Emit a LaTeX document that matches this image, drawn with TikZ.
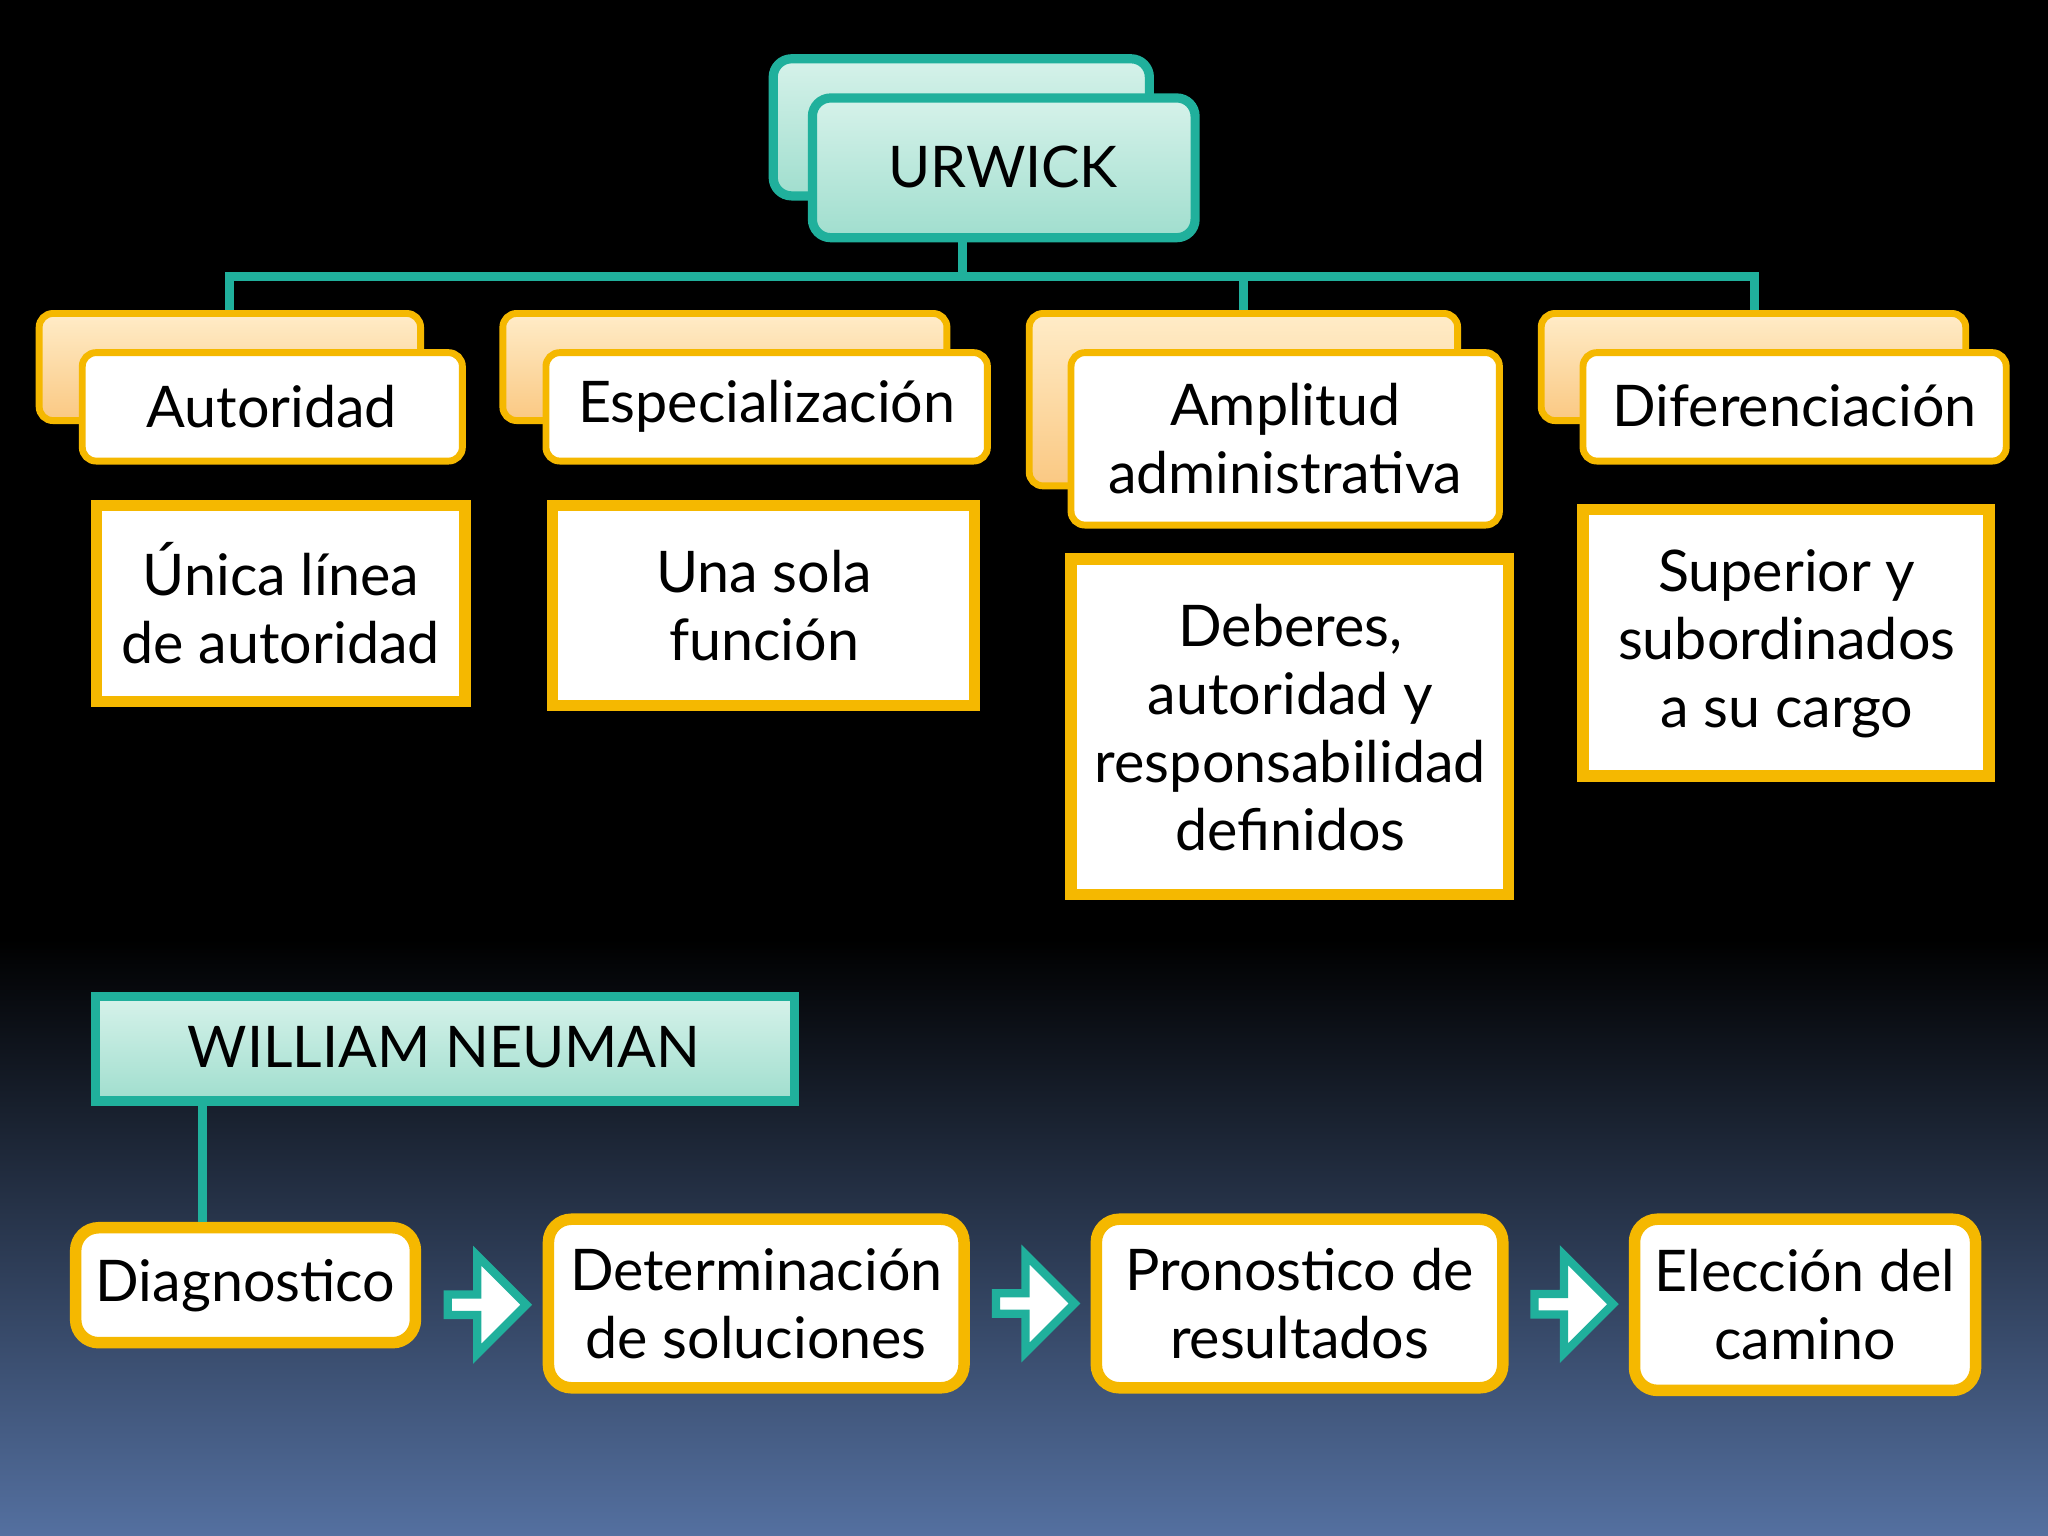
\documentclass[tikz,border=0pt]{standalone}
\usepackage{fontspec}
\setmainfont{Lato}
\usetikzlibrary{shapes.arrows,calc}
\definecolor{teal1}{RGB}{32,176,156}
\definecolor{tealL}{RGB}{214,242,234}
\definecolor{tealM}{RGB}{160,222,206}
\definecolor{org}{RGB}{245,184,0}
\definecolor{orgL}{RGB}{255,236,200}
\definecolor{orgM}{RGB}{250,200,130}
\definecolor{bgb}{RGB}{84,112,160}
\tikzset{
 tbox/.style={draw=teal1,line width=2pt,top color=tealL,bottom color=tealM},
 obk/.style={draw=org,line width=1.5pt,rounded corners=3pt,top color=orgL,bottom color=orgM},
 ofr/.style={draw=org,line width=1.5pt,rounded corners=3pt,fill=white},
 det/.style={draw=org,line width=2.5pt,fill=white},
 btm/.style={draw=org,line width=2.5pt,fill=white,rounded corners=5pt},
 con/.style={draw=teal1,line width=2pt},
 txt/.style={font=\fontsize{12.5}{14.8}\selectfont,align=center,text=black},
 arr/.style={single arrow,draw=teal1,fill=white,line width=1.8pt,minimum height=0.6cm,minimum width=0.75cm,single arrow head extend=0.12cm,inner sep=0pt}
}
\begin{document}
\begin{tikzpicture}[x=0.01cm,y=-0.01cm]
\fill[black] (0,0) rectangle (1568,720);
\shade[top color=black,bottom color=bgb] (0,719) rectangle (1568,1176);
\useasboundingbox (0,0) rectangle (1568,1176);
% URWICK
\path[tbox,rounded corners=4pt] (592,45) rectangle (880,150);
\path[tbox,rounded corners=4pt] (622,75) rectangle (915,182);
\node[txt] (urw) at (768,128) {URWICK};
\coordinate (u0) at (737,182);
\coordinate (h0) at (737,212);
\draw[con] (u0) -- (h0);
\draw[con] (176,240) -- (176,212) -- (1343,212) -- (1343,240);
\draw[con] (952,212) -- (952,240);
% categories
\path[obk] (30,240) rectangle (322,322);
\path[ofr] (63,270) rectangle (354,353);
\node[txt] (c1) at (208,311) {Autoridad};
\path[obk] (385,240) rectangle (725,322);
\path[ofr] (418,270) rectangle (756,353);
\node[txt] (c2) at (587,311) {Especialización};
\path[obk] (788,240) rectangle (1116,372);
\path[ofr] (820,270) rectangle (1148,402);
\node[txt] (c3) at (984,336) {Amplitud\\administrativa};
\path[obk] (1180,240) rectangle (1505,322);
\path[ofr] (1212,270) rectangle (1536,353);
\node[txt] (c4) at (1374,311) {Diferenciación};
% details
\draw[det] (74,387) rectangle (356,537);
\node[txt] (d1) at (215,462) {Única línea\\de autoridad};
\draw[det] (423,387) rectangle (746,540);
\node[txt] (d2) at (585,464) {Una sola\\función};
\draw[det] (820,428) rectangle (1155,685);
\node[txt] (d3) at (988,557) {Deberes,\\autoridad y\\responsabilidad\\definidos};
\draw[det] (1212,390) rectangle (1523,594);
\node[txt] (d4) at (1368,493) {Superior y\\subordinados\\a su cargo};
% William Neuman
\path[tbox] (73,763) rectangle (608,843);
\node[txt] (wn) at (340,802) {WILLIAM NEUMAN};
\coordinate (w0) at (155,843);
\node[btm,minimum width=2.6cm,minimum height=0.88cm] (b1) at (188,984) {};
\node[txt] at (b1) {Diagnostico};
\draw[con] (w0) -- (b1.north -| w0);
\node[btm,minimum width=3.18cm,minimum height=1.29cm] (b2) at (579,998) {};
\node[txt] at (b2) {Determinación\\de soluciones};
\node[btm,minimum width=3.11cm,minimum height=1.29cm] (b3) at (995,998) {};
\node[txt] at (b3) {Pronostico de\\resultados};
\node[btm,minimum width=2.61cm,minimum height=1.31cm] (b4) at (1382,999) {};
\node[txt] at (b4) {Elección del\\camino};
\node[arr] (a1) at ($(b1.east)!0.5!(b2.west)+(0,8)$) {};
\node[arr] (a2) at ($(b2.east)!0.5!(b3.west)$) {};
\node[arr] (a3) at ($(b3.east)!0.5!(b4.west)$) {};
\end{tikzpicture}
\end{document}
